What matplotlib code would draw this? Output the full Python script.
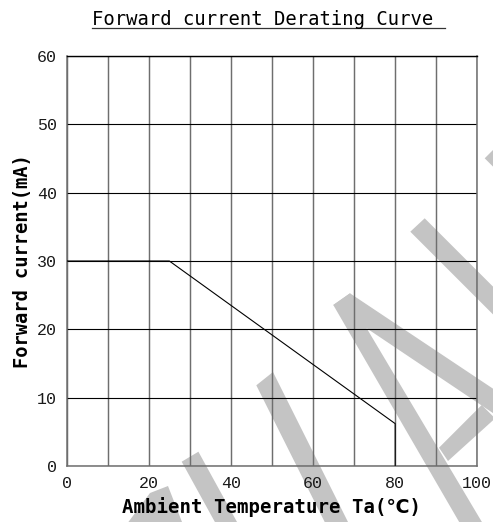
import matplotlib
matplotlib.use('Agg')
import matplotlib.pyplot as plt
from matplotlib.patches import Polygon
from matplotlib.lines import Line2D
from matplotlib.ticker import MultipleLocator

W, H = 493, 522

# derating curve
temp_c = [0, 25, 80, 80]
current_ma = [30, 30, 6.2, 0]

x_range = (0, 100)
y_range = (0, 60)

title = 'Forward current Derating Curve '
xlabel = 'Ambient Temperature Ta(℃)'
ylabel = 'Forward current(mA)'

# grey watermark strokes, pixel coords (x right, y down)
wm_shapes = [
    [(484.7, 158.3), (498.7, 144.3), (558.7, 204.3), (544.7, 218.3)],
    [(410.3, 231.7), (424.7, 218.3), (574.7, 368.3), (560.3, 381.7)],
    [(333.3, 305), (350, 293.3), (366.7, 328.3), (492.6, 540), (469.6, 540)],
    [(333.3, 305), (350, 293.3), (510, 400), (510, 424.5), (366.7, 328.3)],
    [(439, 447.7), (481.7, 405), (495.1, 418.4), (448, 461)],
    [(256.3, 385.3), (273, 372), (357, 540), (333.7, 540)],
    [(181.7, 461.7), (198.4, 451.7), (246.9, 540), (224.8, 540)],
    [(150, 493), (168, 486), (182, 522), (182, 540), (115, 540)],
]

plt.rcParams['font.family'] = ['DejaVu Sans Mono', 'DejaVu Sans', 'Noto Sans CJK SC']

fig = plt.figure(figsize=(W / 100, H / 100), dpi=100)
fig.patch.set_facecolor('white')

for pts in wm_shapes:
    fig.add_artist(Polygon([(x / W, 1 - y / H) for x, y in pts], closed=True,
                           transform=fig.transFigure, facecolor='#c4c4c4',
                           edgecolor='none', zorder=-1))

# axes box: x 66.7..477.3, y 56..466 px
ax = fig.add_axes([66.7 / W, 1 - 466 / H, 410.6 / W, 410 / H])
ax.set_facecolor('none')
ax.set_xlim(*x_range)
ax.set_ylim(*y_range)

ax.xaxis.set_major_locator(MultipleLocator(20))
ax.xaxis.set_minor_locator(MultipleLocator(10))
ax.yaxis.set_major_locator(MultipleLocator(10))

ax.grid(which='both', axis='x', color='#6e6e6e', lw=1.05)
ax.grid(which='major', axis='y', color='black', lw=0.8)

ax.plot(temp_c, current_ma, color='black', lw=0.8, zorder=3)

for side in ['left', 'right', 'bottom']:
    ax.spines[side].set_color('#6e6e6e')
    ax.spines[side].set_linewidth(1.1)
ax.spines['top'].set_color('black')
ax.spines['top'].set_linewidth(1.0)

ax.tick_params(which='both', length=0, pad=7, labelsize=12, labelcolor='#1a1a1a')
for lbl in ax.get_xticklabels() + ax.get_yticklabels():
    lbl.set_fontfamily(['Liberation Mono', 'DejaVu Sans Mono'])

ax.set_xlabel(xlabel, fontsize=13.7, fontweight='bold', va='center')
ax.xaxis.set_label_coords(0.5, (466 - 506.7) / 410)
ax.set_ylabel(ylabel, fontsize=13.5, fontweight='bold', va='center', ha='center')
ax.yaxis.set_label_coords((23 - 66.7) / 410.6, 0.5)

t = fig.text(92 / W, 1 - 25 / H, title, ha='left', va='baseline', fontsize=13.6)
fig.canvas.draw()
bb = t.get_window_extent(fig.canvas.get_renderer())
uy = 1 - 28.3 / H
fig.add_artist(Line2D([bb.x0 / W, bb.x1 / W], [uy, uy], transform=fig.transFigure,
                      color='#333333', lw=0.9))

fig.savefig('out.png', dpi=100)
